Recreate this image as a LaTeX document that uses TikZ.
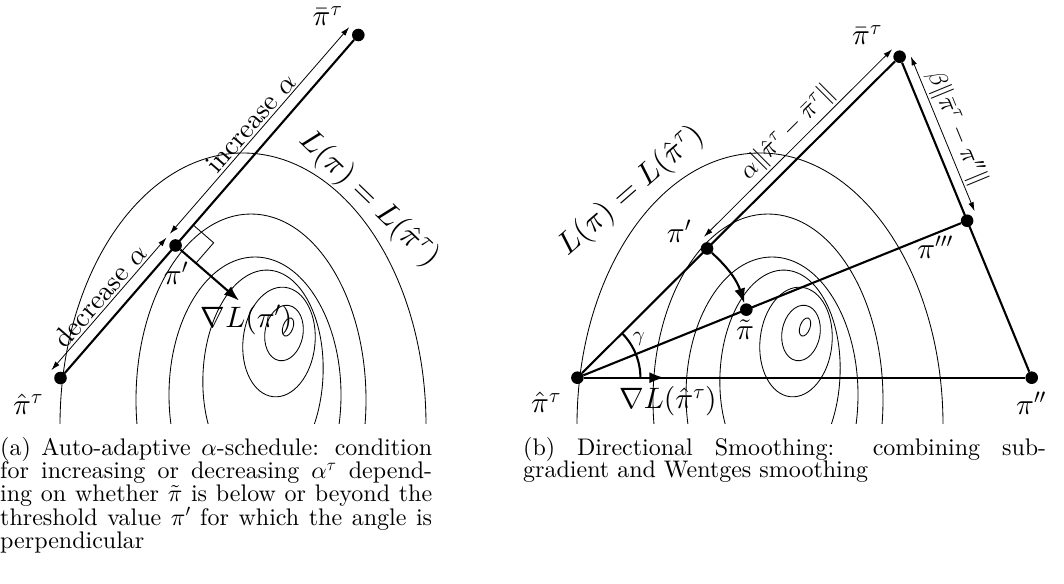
\RequirePackage{fix-cm}
\documentclass[tikz,border=0pt]{standalone}
\usepackage{amsmath}
\usepackage[no-math]{fontspec}
\newfontfamily\lmten{lmroman10-regular}[Extension=.otf,Ligatures=TeX]
\DeclareFontShape{OML}{cmm}{m}{it}{<->cmmi10}{}
\DeclareFontShape{OMS}{cmsy}{m}{n}{<->cmsy10}{}
\DeclareFontShape{OT1}{cmr}{m}{n}{<->cmr10}{}
\usetikzlibrary{calc,arrows.meta}
\tikzset{
  dot/.style={circle,fill=black,inner sep=0pt,minimum size=12.6pt},
  mainline/.style={line width=2.1pt},
  thinarr/.style={line width=0.8pt,{Latex[length=9pt,width=5.5pt]}-{Latex[length=9pt,width=5.5pt]}},
  gradarr/.style={line width=2.1pt,-{Latex[length=15pt,width=11pt]}},
  lvl/.style={line width=0.85pt},
  lab/.style={font=\lmten\fontsize{29.5}{32}\selectfont,inner sep=0pt},
  txtlab/.style={font=\lmten\fontsize{27.5}{30}\selectfont,inner sep=0pt},
  Llab/.style={font=\lmten\fontsize{31}{35}\selectfont,inner sep=0pt},
  normlab/.style={font=\lmten\fontsize{25}{28}\selectfont,inner sep=0pt},
  gamlab/.style={font=\lmten\fontsize{21}{23}\selectfont,inner sep=0pt},
  capt/.style={anchor=base west,inner sep=0pt,font=\lmten\fontsize{24}{22.7}\selectfont}
}
\begin{document}
\begin{tikzpicture}[x=1pt,y=-1pt]
\useasboundingbox (0,0) rectangle (1064,583);

% ---------- level curves ----------
\begin{scope}
\clip (0,0) rectangle (1064,423);
\foreach \sh in {0,-517}{
 \begin{scope}[xshift=\sh pt]
 \foreach \cx/\cy/\rx/\ry/\rot in {760/425/183/272/0, 768/400/115/186/0, 772/395/86/138/0,
   780/375/60/105/-3, 796/342/36/55/-6, 801/333/19/28/-10, 805/327/5/9.5/-20}{
   \draw[lvl,rotate around={\rot:(\cx,\cy)}] (\cx,\cy) ellipse [x radius=\rx pt, y radius=\ry pt];
 }
 \end{scope}
}
\end{scope}

% ---------- left panel ----------
\node[dot] (A) at (60.5,378) {};
\node[dot] (B) at (358.3,35) {};
\node[dot] (P) at ($(A)!0.3864!(B)$) {};
\coordinate (G) at ($(P)!84pt!-90:(B)$);
\draw[mainline] (A) -- (B);
\draw[gradarr] (P) -- (G);
\coordinate (ra1) at ($(P)!27pt!(B)$);
\coordinate (ra3) at ($(P)!27pt!(G)$);
\coordinate (ra2) at ($(ra1)+(ra3)-(P)$);
\draw[lvl] (ra1) -- (ra2) -- (ra3);
\coordinate (Aw) at ($(A)!12pt!90:(B)$);
\coordinate (Pw) at ($(P)!12pt!90:(B)$);
\coordinate (Bw) at ($(B)!12pt!-90:(A)$);
\coordinate (Pw2) at ($(Pw)!5pt!(Bw)$);
\draw[thinarr] (Aw) -- node[txtlab,above=2pt,sloped] {decrease $\alpha$} (Pw);
\draw[thinarr] (Pw2) -- node[txtlab,above=2pt,sloped] {increase $\alpha$} (Bw);
\node[lab] (lA) at (28,404) {$\hat\pi^\tau$};
\node[lab] (lB) at (327.5,16) {$\bar\pi^\tau$};
\node[lab] (lP) at (176,273) {$\pi'$};
\node[lab] (lG) at (246.5,320) {$\nabla L(\pi')$};
\node[Llab,rotate=-44] (lL) at (369,199) {$L(\pi) = L(\hat\pi^\tau)$};

% ---------- right panel ----------
\node[dot] (A2) at (577.4,377.7) {};
\node[dot] (B2) at (899.6,56.7) {};
\node[dot] (C2) at (1031.7,377.7) {};
\node[dot] (D2) at ($(B2)!0.511!(C2)$) {};
\node[dot] (P2) at ($(A2)!0.4025!(B2)$) {};
\node[dot] (T2) at ($(A2)!0.4335!(D2)$) {};
\draw[mainline] (A2) -- (B2);
\draw[mainline] (B2) -- (C2);
\draw[mainline] (A2) -- (C2);
\draw[mainline] (A2) -- (D2);
\coordinate (G2) at ($(A2)+(87,0)$);
\draw[gradarr] (A2) -- (G2);
\draw[mainline] ($(A2)+(63,0)$) arc[start angle=0,end angle=45,radius=63pt];
\draw[gradarr] (P2) to[bend left=15] (T2);
% alpha arrow
\coordinate (Pv) at ($(P2)!10.5pt!90:(B2)$);
\coordinate (Bv) at ($(B2)!10.5pt!-90:(A2)$);
\coordinate (Pv2) at ($(Pv)!6pt!(Bv)$);
\draw[thinarr] (Pv2) -- node[normlab,above=2pt,sloped] {$\alpha\|\hat\pi^\tau-\bar\pi^\tau\|$} (Bv);
% beta arrow
\coordinate (Bu) at ($(B2)!10.5pt!90:(C2)$);
\coordinate (Du) at ($(D2)!10.5pt!-90:(B2)$);
\coordinate (Bu2) at ($(Bu)!4pt!(Du)$);
\coordinate (Du2) at ($(Du)!6pt!(Bu)$);
\draw[thinarr] (Bu2) -- node[normlab,above=2pt,sloped] {$\beta\|\bar\pi^\tau-\pi''\|$} (Du2);
\node[lab] (lA2) at (546,402.5) {$\hat\pi^\tau$};
\node[lab] (lB2) at (867,35) {$\bar\pi^\tau$};
\node[lab] (lC2) at (1031,403) {$\pi''$};
\node[lab] (lD2) at (935,247.5) {$\pi'''$};
\node[lab] (lP2) at (679,231.5) {$\pi'$};
\node[lab] (lT2) at (745,330) {$\tilde\pi$};
\node[lab] (lG2) at (668,401.5) {$\nabla L(\hat\pi^\tau)$};
\node[gamlab] (lgam) at (639,339) {$\gamma$};
\node[Llab,rotate=41] (lL2) at (631,191) {$L(\pi) = L(\hat\pi^\tau)$};

% ---------- captions ----------
\node[capt] (capa) at (0,455) {\parbox[t]{432pt}{\tolerance=10000\hbadness=10000
(a) Auto-adaptive $\alpha$-schedule: condition\linebreak
for increasing or decreasing $\alpha^\tau$ depend-\linebreak
ing on whether $\tilde\pi$ is below or beyond the\linebreak
threshold value $\pi'$ for which the angle is\linebreak
perpendicular}};
\node[capt] (capb) at (523,455) {\parbox[t]{523pt}{\tolerance=10000\hbadness=10000
(b) Directional Smoothing: combining sub-\linebreak
gradient and Wentges smoothing}};
\end{tikzpicture}
\end{document}
